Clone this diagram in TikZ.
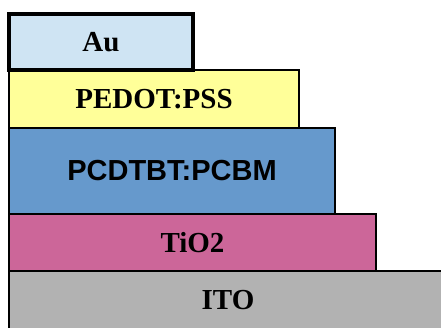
\documentclass[tikz,border=0pt]{standalone}
\usepackage{fontspec}
\setmainfont{Liberation Serif}
\newfontfamily\arialfont{Liberation Sans}
\definecolor{auc}{RGB}{207,228,243}
\definecolor{pedotc}{RGB}{255,255,153}
\definecolor{pcdc}{RGB}{102,153,204}
\definecolor{tioc}{RGB}{204,102,153}
\definecolor{itoc}{RGB}{178,178,178}
\begin{document}
\begin{tikzpicture}[x=1pt,y=1pt,
  layer/.style={draw=black, line width=2.8pt, rectangle, inner sep=0pt, font=\fontsize{29}{29}\selectfont\bfseries},
  serifl/.style={layer},
  sansl/.style={layer, font=\fontsize{29}{29}\selectfont\arialfont\bfseries}]
\useasboundingbox (0,0) rectangle (441,327);
\clip (0,0) rectangle (441,327);
\node[serifl, fill=itoc, minimum width=438pt, minimum height=59pt] (ito) at (228,26.5) {ITO};
\node[serifl, fill=tioc, minimum width=367pt, minimum height=57pt] (tio) at (192.5,84.5) {TiO2};
\node[sansl, fill=pcdc, minimum width=326pt, minimum height=86pt] (pcd) at (172,156) {PCDTBT:PCBM};
\node[serifl, fill=pedotc, minimum width=290pt, minimum height=58pt] (pedot) at (154,228) {PEDOT:PSS};
\node[serifl, fill=auc, line width=3.8pt, minimum width=184pt, minimum height=56pt] (au) at (101,285) {Au};
\end{tikzpicture}
\end{document}
